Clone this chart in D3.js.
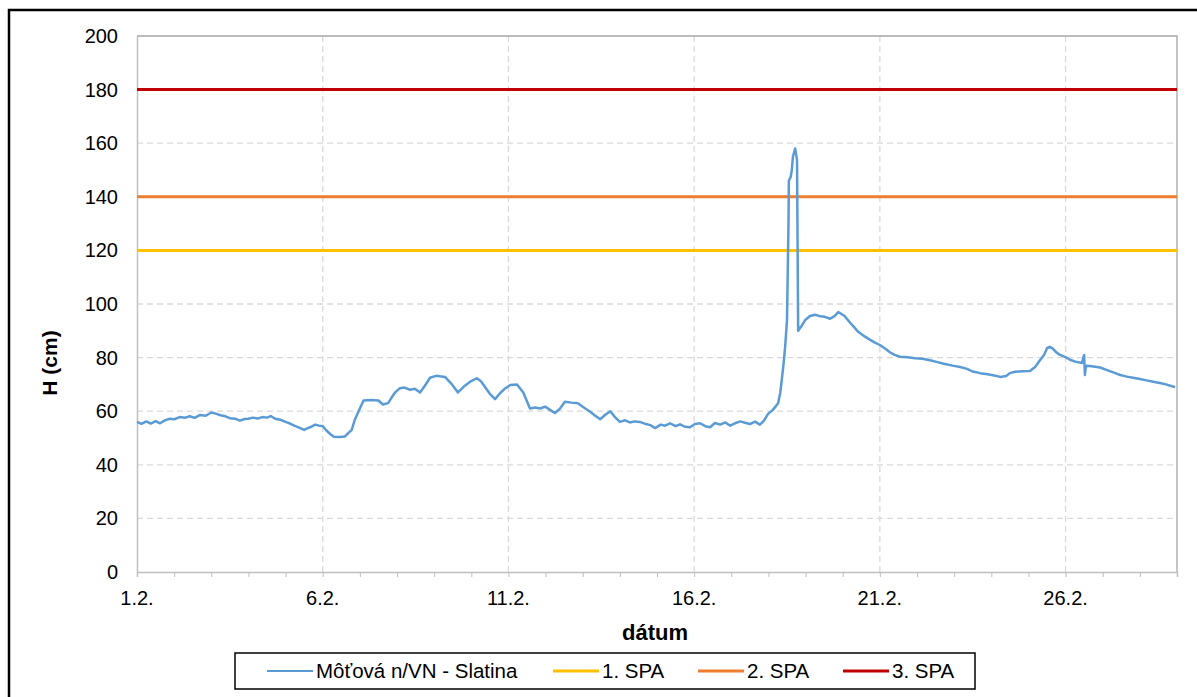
<!DOCTYPE html>
<html>
<head>
<meta charset="utf-8">
<script src="https://cdn.jsdelivr.net/npm/d3@7"></script>
<style>
  body { margin: 0; background: #fff; }
  svg { font-family: "Liberation Sans", Arial, sans-serif; }
</style>
</head>
<body>
<script>
// day offset from 1.2. and water level H (cm)
const days = [0, 0.12, 0.25, 0.37, 0.5, 0.62, 0.75, 0.88, 1.0, 1.15, 1.3, 1.42, 1.55, 1.7, 1.85, 2.0, 2.12, 2.25, 2.38, 2.5, 2.64, 2.77, 2.9, 3.0, 3.12, 3.25, 3.38, 3.5, 3.6, 3.72, 3.86, 4.0,
  4.12, 4.25, 4.38, 4.5, 4.58, 4.66, 4.8, 4.9, 5.0, 5.1, 5.2, 5.3, 5.45, 5.6, 5.7, 5.78, 5.87, 6.0, 6.1, 6.3, 6.5, 6.62, 6.76, 6.85, 6.95, 7.08, 7.2, 7.35, 7.48, 7.62, 7.75, 7.89,
  8.05, 8.29, 8.48, 8.64, 8.8, 8.97, 9.15, 9.26, 9.37, 9.5, 9.64, 9.78, 9.91, 10.05, 10.23, 10.4, 10.58, 10.72, 10.85, 10.99, 11.12, 11.25, 11.38, 11.52, 11.7, 11.87, 12.05, 12.2,
  12.33, 12.47, 12.6, 12.74, 12.87, 13.0, 13.14, 13.27, 13.4, 13.54, 13.7, 13.82, 13.95, 14.1, 14.22, 14.35, 14.5, 14.62, 14.75, 14.89, 15.02, 15.16, 15.3, 15.43, 15.56, 15.7,
  15.84, 15.97, 16.1, 16.24, 16.37, 16.5, 16.64, 16.77, 16.88, 16.99, 17.12, 17.26, 17.32, 17.37, 17.41, 17.45, 17.5, 17.54, 17.55, 17.6, 17.63, 17.66, 17.72, 17.77, 17.8,
  17.9, 17.99, 18.12, 18.26, 18.4, 18.52, 18.66, 18.78, 18.88, 19.05, 19.2, 19.3, 19.41, 19.58, 19.74, 19.87, 20.0, 20.14, 20.27, 20.4, 20.54, 20.75, 20.95, 21.15, 21.35,
  21.55, 21.75, 21.96, 22.16, 22.35, 22.5, 22.7, 22.9, 23.05, 23.24, 23.4, 23.5, 23.64, 23.85, 24.04, 24.18, 24.31, 24.42, 24.5, 24.57, 24.64, 24.75, 24.85, 25.0, 25.12,
  25.26, 25.44, 25.48, 25.5, 25.52, 25.54, 25.57, 25.7, 25.8, 25.93, 26.1, 26.3, 26.47, 26.65, 26.82, 27.0, 27.18, 27.36, 27.54, 27.7, 27.82, 27.95];
const level = [56, 55.3, 56.2, 55.4, 56.3, 55.5, 56.6, 57.2, 57, 57.8, 57.6, 58.1, 57.5, 58.6, 58.3, 59.5, 59.1, 58.5, 58.1, 57.4, 57.2, 56.5, 57.1, 57.2, 57.6, 57.3, 57.8, 57.6, 58.2, 57.2, 56.8, 56,
  55.4, 54.5, 53.8, 53, 53.6, 54, 55, 54.6, 54.5, 52.8, 51.5, 50.5, 50.4, 50.6, 52, 53, 57, 61, 64, 64.2, 64, 62.5, 63, 65, 67, 68.6, 68.8, 68, 68.4, 67, 69.5, 72.5,
  73.2, 72.8, 70, 67, 69.2, 71, 72.3, 71.2, 69, 66.5, 64.5, 66.8, 68.5, 69.8, 70, 67, 61, 61.4, 61, 61.7, 60.5, 59.3, 60.8, 63.5, 63.2, 63, 61.2, 59.8,
  58.4, 57, 58.6, 60, 57.8, 56, 56.6, 55.8, 56.2, 56, 55.2, 54.8, 53.7, 55, 54.6, 55.5, 54.4, 55.1, 54.2, 54, 55.2, 55.5, 54.4, 54, 55.6, 55,
  55.8, 54.6, 55.5, 56.2, 55.7, 55.2, 56.1, 55, 56.5, 59, 60.5, 63, 67, 73, 78, 84, 94, 130, 146, 147.5, 150, 155, 158, 153.7, 90,
  92, 94, 95.5, 96, 95.4, 95.2, 94.5, 95.5, 97, 95.5, 93, 91.5, 89.7, 88, 86.6, 85.6, 84.7, 83.4, 82, 81, 80.3, 80.1, 79.8, 79.6, 79,
  78.3, 77.6, 77, 76.5, 75.8, 74.8, 74.2, 73.8, 73.4, 72.8, 73.1, 74.2, 74.7, 74.9, 75, 76.5, 79, 81, 83.5, 84, 83.5, 82, 81, 80.2, 79.2,
  78.5, 78, 80, 81, 73.5, 76, 77, 76.8, 76.6, 76.3, 75.4, 74.4, 73.5, 72.9, 72.5, 72, 71.5, 71, 70.5, 70, 69.5, 69];

// limits (stupne povodňovej aktivity)
const spaNames = ["1. SPA", "2. SPA", "3. SPA"];
const spaValues = [120, 140, 180];
const spaColors = ["#ffc000", "#ed7d31", "#c00000"];
const seriesName = "Môťová n/VN - Slatina";
const seriesColor = "#5b9bd5";

const yTicks = [0, 20, 40, 60, 80, 100, 120, 140, 160, 180, 200];
const xLabelDays = [0, 5, 10, 15, 20, 25];
const xLabels = ["1.2.", "6.2.", "11.2.", "16.2.", "21.2.", "26.2."];

const width = 1197, height = 697;
const margin = {left: 137, top: 36, right: 20, bottom: 125};

const svg = d3.select("body").append("svg")
  .attr("width", width)
  .attr("height", height);

// outer frame
svg.append("rect")
  .attr("x", 9).attr("y", 10)
  .attr("width", width + 10).attr("height", height + 10)
  .attr("fill", "none").attr("stroke", "#000").attr("stroke-width", 2.5);

const x = d3.scaleLinear().domain([0, 28]).range([margin.left, 1177]);
const y = d3.scaleLinear().domain([0, 200]).range([572, margin.top]);

// grid
svg.append("g").selectAll("line")
  .data(yTicks.filter(d => d > 0 && d < 200))
  .join("line")
  .attr("x1", x(0)).attr("x2", x(28))
  .attr("y1", d => y(d)).attr("y2", d => y(d))
  .attr("stroke", "#d9d9d9").attr("stroke-width", 1.3).attr("stroke-dasharray", "6,4");

svg.append("g").selectAll("line")
  .data(xLabelDays.filter(d => d > 0))
  .join("line")
  .attr("x1", d => x(d)).attr("x2", d => x(d))
  .attr("y1", y(0)).attr("y2", y(200))
  .attr("stroke", "#d9d9d9").attr("stroke-width", 1.3).attr("stroke-dasharray", "6,4");

// plot border top/right
svg.append("path")
  .attr("d", `M${x(0)},${y(200)}H${x(28)}V${y(0)}`)
  .attr("fill", "none").attr("stroke", "#a6a6a6").attr("stroke-width", 1.3);

// y axis
const yAxis = svg.append("g")
  .attr("transform", `translate(${x(0)},0)`)
  .call(d3.axisLeft(y).tickValues(yTicks).tickSize(0).tickPadding(19));
yAxis.select(".domain").attr("stroke", "#bfbfbf").attr("stroke-width", 1.5);
yAxis.selectAll("text").attr("font-size", 20).attr("fill", "#000")
  .attr("font-family", "Liberation Sans, Arial, sans-serif");

// x axis with daily ticks
const xAxis = svg.append("g")
  .attr("transform", `translate(0,${y(0)})`)
  .call(d3.axisBottom(x).tickValues(d3.range(0, 29)).tickSize(5).tickFormat(""));
xAxis.select(".domain").attr("stroke", "#bfbfbf").attr("stroke-width", 1.5);
xAxis.selectAll(".tick line").attr("stroke", "#bfbfbf");
svg.append("g").selectAll("text")
  .data(xLabelDays)
  .join("text")
  .attr("x", d => x(d)).attr("y", y(0) + 33)
  .attr("text-anchor", "middle")
  .attr("font-size", 20)
  .text((d, i) => xLabels[i]);

// axis titles
svg.append("text")
  .attr("transform", "translate(57,363) rotate(-90)")
  .attr("text-anchor", "middle")
  .attr("font-size", 21).attr("font-weight", "bold")
  .text("H (cm)");
svg.append("text")
  .attr("x", 655).attr("y", 640)
  .attr("text-anchor", "middle")
  .attr("font-size", 22).attr("font-weight", "bold")
  .text("dátum");

// SPA lines
svg.append("g").selectAll("line")
  .data(spaValues)
  .join("line")
  .attr("x1", x(0)).attr("x2", x(28))
  .attr("y1", d => y(d)).attr("y2", d => y(d))
  .attr("stroke", (d, i) => spaColors[i]).attr("stroke-width", 3);

// series
const line = d3.line().x(d => x(d[0])).y(d => y(d[1]));
svg.append("path")
  .datum(days.map((d, i) => [d, level[i]]))
  .attr("d", line)
  .attr("fill", "none")
  .attr("stroke", seriesColor)
  .attr("stroke-width", 2.5)
  .attr("stroke-linejoin", "round");

// legend
const legend = svg.append("g");
legend.append("rect")
  .attr("x", 235).attr("y", 653).attr("width", 740).attr("height", 36)
  .attr("fill", "#fff").attr("stroke", "#000").attr("stroke-width", 1.5);
const items = [{name: seriesName, color: seriesColor, w: 2, x: 267},
  ...spaNames.map((n, i) => ({name: n, color: spaColors[i], w: 3, x: [553, 698, 843][i]}))];
const li = legend.selectAll("g").data(items).join("g")
  .attr("transform", d => `translate(${d.x},671)`);
li.append("line").attr("x1", 0).attr("x2", 46)
  .attr("stroke", d => d.color).attr("stroke-width", d => d.w);
li.append("text").attr("x", 49).attr("y", 7)
  .attr("font-size", 20.5)
  .text(d => d.name);
</script>
</body>
</html>
